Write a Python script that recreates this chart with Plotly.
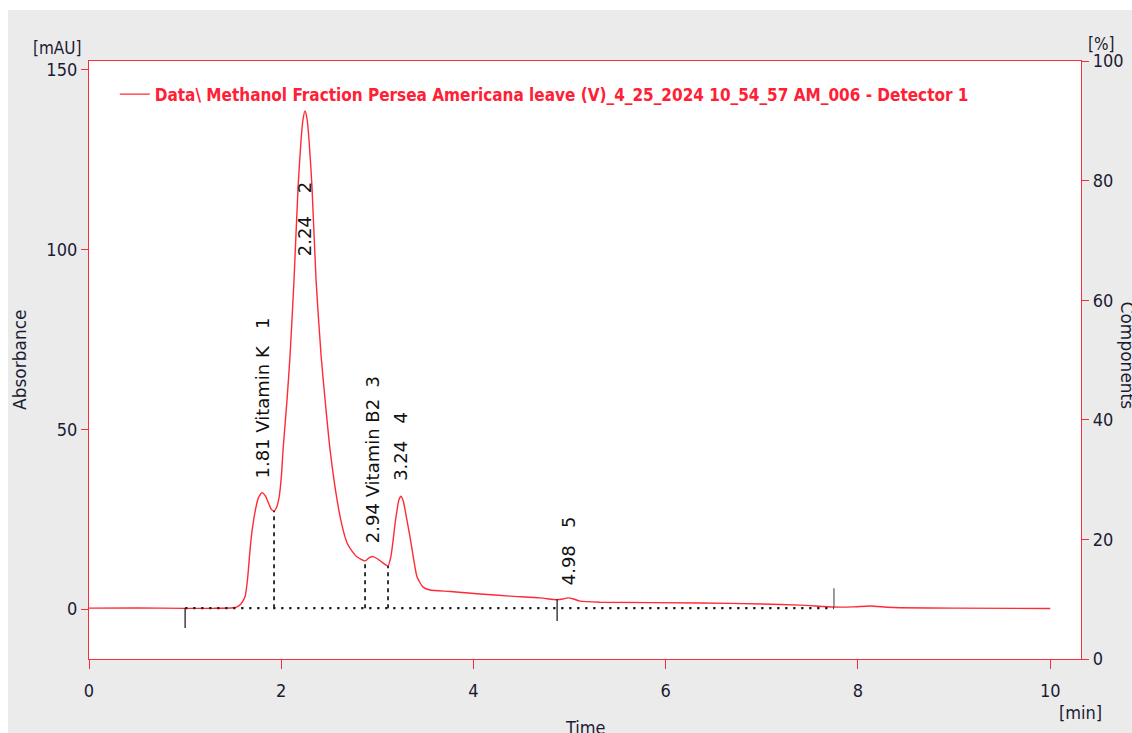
import plotly.graph_objects as go

# Chromatogram trace: retention time [min] vs absorbance [mAU]
time_min = [0.0, 0.5, 1.0, 1.3, 1.5, 1.54, 1.58, 1.623, 1.65, 1.675, 1.70, 1.727, 1.76, 1.80,
            1.835, 1.863, 1.895, 1.925, 1.95, 1.977, 2.0, 2.019, 2.04, 2.06, 2.092, 2.133,
            2.175, 2.206, 2.225, 2.247, 2.268, 2.289, 2.32, 2.362, 2.414, 2.456, 2.508, 2.581,
            2.63, 2.685, 2.74, 2.789, 2.872, 2.92, 2.955, 3.0, 3.05, 3.111, 3.14, 3.164, 3.185,
            3.205, 3.225, 3.247, 3.27, 3.288, 3.34, 3.38, 3.413, 3.476, 3.548, 3.757, 4.069,
            4.381, 4.693, 4.87, 4.93, 4.984, 5.04, 5.109, 5.317, 6.358, 7.0, 7.399, 7.752,
            7.95, 8.127, 8.3, 8.44, 9.0, 10.0]
absorbance = [0.25, 0.3, 0.2, 0.2, 0.35, 0.6, 1.4, 3.4, 8.5, 16.4, 22.5, 27.0, 30.8, 32.4,
              31.5, 29.8, 27.8, 27.3, 28.2, 31.0, 36.5, 44.3, 51.5, 58.2, 70.7, 91.6,
              117.4, 130.5, 136.0, 138.6, 136.5, 130.5, 117.4, 91.6, 70.7, 58.2, 44.3, 30.3,
              23.5, 18.4, 16.0, 14.5, 13.4, 14.4, 14.6, 14.0, 13.0, 12.0, 14.5, 19.2, 24.0,
              27.6, 30.5, 31.4, 30.0, 27.6, 20.0, 13.5, 8.9, 6.1, 5.3, 4.9, 4.2,
              3.6, 3.1, 2.6, 2.8, 3.1, 2.8, 2.2, 1.9, 1.7, 1.4, 1.1, 0.55,
              0.6, 0.85, 0.5, 0.35, 0.25, 0.15]

# Peak annotations
peak_labels = ["1.81 Vitamin K\u00a0\u00a0\u00a01", "2.24\u00a0\u00a0\u00a0\u00a02",
               "2.94 Vitamin B2\u00a0\u00a03", "3.24\u00a0\u00a0\u00a04", "4.98\u00a0\u00a0\u00a05"]
peak_label_x = [1.81, 2.25, 2.95, 3.24, 4.99]
peak_label_y = [35.9, 97.7, 17.8, 35.1, 6.1]

# Integration: baseline, peak boundary drops and event marks
baseline_t = [1.0, 7.75]
baseline_y = [0.25, 0.25]
drop_t = [1.925, 2.872, 3.111]
drop_top = [27.3, 13.4, 12.0]
event_t = [1.0, 4.87]
event_lo = [-5.3, -3.3]
event_hi = [0.3, 2.8]
end_mark_t = 7.75
end_mark_range = [0.5, 5.8]

legend_name = "Data\\ Methanol Fraction Persea Americana leave (V)_4_25_2024 10_54_57 AM_006 - Detector 1"

RED = "#f2303c"
TXT = "#1b1b33"
NARROW = "DejaVu Sans Condensed, Liberation Sans Narrow, sans-serif"
WIDE = "DejaVu Sans, Verdana, sans-serif"

fig = go.Figure()

fig.add_trace(go.Scatter(
    x=time_min, y=absorbance, mode="lines", name=legend_name,
    line=dict(color="#ff2a35", width=1.4, shape="spline", smoothing=0.6),
))

fig.add_trace(go.Scatter(
    x=baseline_t, y=baseline_y, mode="lines", showlegend=False, hoverinfo="skip",
    line=dict(color="#222222", width=2.4, dash="2.4px,5.6px"),
))

for t, top in zip(drop_t, drop_top):
    fig.add_trace(go.Scatter(
        x=[t, t], y=[baseline_y[0], top], mode="lines", showlegend=False, hoverinfo="skip",
        line=dict(color="#222222", width=1.8, dash="4px,4px"),
    ))

for t, lo, hi in zip(event_t, event_lo, event_hi):
    fig.add_trace(go.Scatter(
        x=[t, t], y=[lo, hi], mode="lines", showlegend=False, hoverinfo="skip",
        line=dict(color="#222222", width=1.3),
    ))

fig.add_trace(go.Scatter(
    x=[end_mark_t, end_mark_t], y=end_mark_range, mode="lines", showlegend=False,
    hoverinfo="skip", line=dict(color="#666666", width=1.3),
))

# Right-hand percentage axis
fig.add_trace(go.Scatter(x=[None], y=[None], yaxis="y2", showlegend=False, hoverinfo="skip"))

annotations = []
for txt, x, y in zip(peak_labels, peak_label_x, peak_label_y):
    annotations.append(dict(
        x=x, y=y, xref="x", yref="y", text=txt, showarrow=False, textangle=-90,
        xanchor="center", yanchor="bottom", font=dict(family=WIDE, size=18, color="#111111"),
    ))


def paper_text(txt, x, y, family, size, angle=0):
    return dict(x=x, y=y, xref="paper", yref="paper", text=txt, showarrow=False,
                textangle=angle, xanchor="center", yanchor="middle",
                font=dict(family=family, size=size, color=TXT))


annotations += [
    paper_text("[mAU]", -0.0313, 1.0215, NARROW, 17),
    paper_text("[%]", 1.0202, 1.028, NARROW, 17),
    paper_text("[min]", 0.999, -0.0903, NARROW, 18),
    paper_text("Time", 0.5, -0.114, NARROW, 18),
    paper_text("Absorbance", -0.0696, 0.5, WIDE, 17, -90),
    paper_text("Components", 1.046, 0.508, WIDE, 17, 90),
]

fig.update_layout(
    width=1132, height=733,
    margin=dict(l=89, r=51, t=61, b=74, autoexpand=False),
    paper_bgcolor="#ebebeb", plot_bgcolor="white",
    showlegend=True,
    legend=dict(x=0.026, y=0.974, xanchor="left", yanchor="top", bgcolor="rgba(0,0,0,0)",
                font=dict(family=NARROW, size=17, color="#ff2035", weight="bold")),
    xaxis=dict(range=[0, 10.32], tickvals=[0, 2, 4, 6, 8, 10], showgrid=False, zeroline=False,
               showline=True, linecolor=RED, linewidth=1.3, mirror=True,
               ticks="outside", ticklen=9, tickcolor=RED, tickwidth=1,
               ticklabelstandoff=6,
               tickfont=dict(family=NARROW, size=18, color=TXT)),
    yaxis=dict(range=[-13.9, 152.5], tickvals=[0, 50, 100, 150], showgrid=False, zeroline=False,
               showline=True, linecolor=RED, linewidth=1.3, mirror=True,
               ticks="outside", ticklen=7, tickcolor=RED, tickwidth=1,
               tickfont=dict(family=NARROW, size=18, color=TXT)),
    yaxis2=dict(range=[0, 100], tickvals=[0, 20, 40, 60, 80, 100], overlaying="y", side="right",
                showgrid=False, zeroline=False, showline=True, linecolor=RED, linewidth=1.3,
                ticks="outside", ticklen=7, tickcolor=RED, tickwidth=1,
                tickfont=dict(family=NARROW, size=18, color=TXT)),
    annotations=annotations,
    shapes=[
        dict(type="rect", xref="paper", yref="paper", x0=-0.1, x1=1.1, y0=1.0853, y1=1.2,
             fillcolor="white", line=dict(width=0), layer="above"),
        dict(type="rect", xref="paper", yref="paper", x0=-0.1, x1=-0.0817, y0=-0.2, y1=1.2,
             fillcolor="white", line=dict(width=0), layer="above"),
    ],
)

fig.write_html("out.html")
